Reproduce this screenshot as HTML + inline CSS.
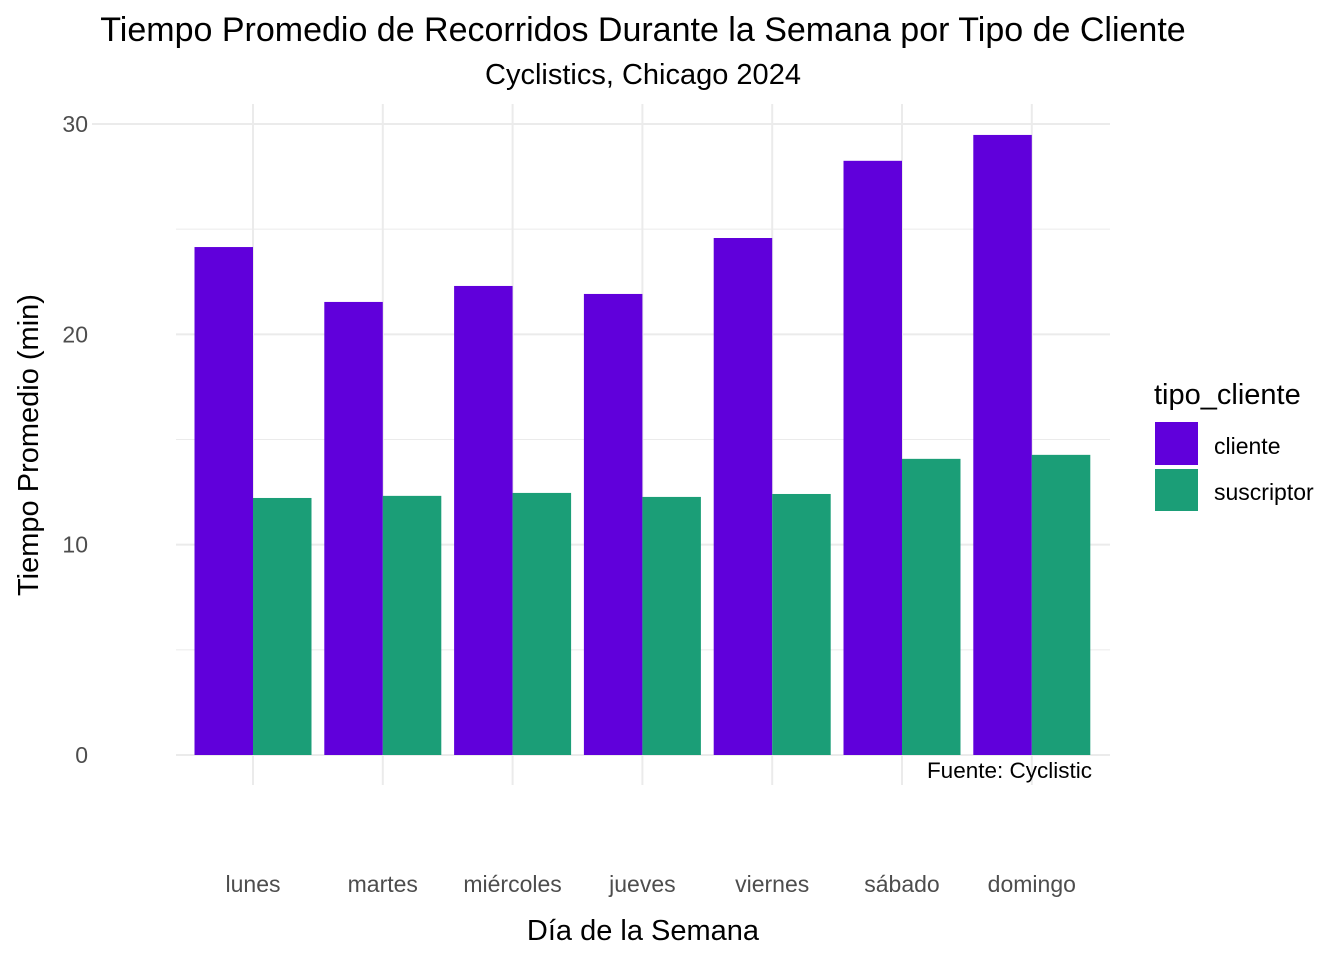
<!DOCTYPE html>
<html><head><meta charset="utf-8">
<style>
body{margin:0;background:#fff;}
svg text{font-family:"Liberation Sans",sans-serif;}
</style></head>
<body>
<svg id="chart" width="1344" height="960" xmlns="http://www.w3.org/2000/svg">
<rect width="1344" height="960" fill="#fff"/>
<g id="grid"></g>
<g id="bars"></g>
<g id="labels"></g>
<text x="643" y="41" font-size="34" text-anchor="middle" fill="#000">Tiempo Promedio de Recorridos Durante la Semana por Tipo de Cliente</text>
<text x="643" y="84" font-size="29" text-anchor="middle" fill="#000">Cyclistics, Chicago 2024</text>
<text transform="translate(38,445) rotate(-90)" font-size="29" text-anchor="middle" fill="#000">Tiempo Promedio (min)</text>
<text x="643" y="940" font-size="29" text-anchor="middle" fill="#000">Día de la Semana</text>
<text x="1092" y="778" font-size="22.5" text-anchor="end" fill="#000">Fuente: Cyclistic</text>
<g>
<text x="1154" y="404" font-size="29" fill="#000">tipo_cliente</text>
<rect x="1155" y="422" width="43" height="43" fill="#6000DB"/>
<rect x="1155" y="469" width="43" height="42" fill="#1B9E77"/>
<text x="1214" y="454" font-size="23" fill="#000">cliente</text>
<text x="1214" y="500" font-size="23" fill="#000">suscriptor</text>
</g>
</svg>
<script>
const categories=["lunes","martes","miércoles","jueves","viernes","sábado","domingo"];
const cliente=[24.15,21.54,22.3,21.92,24.58,28.25,29.48];
const suscriptor=[12.22,12.32,12.46,12.27,12.41,14.08,14.27];
const yTicks=[0,10,20,30];
const yMinor=[5,15,25];
const NS="http://www.w3.org/2000/svg";
const y0=755, pxPerUnit=(755-124)/30;
const y=v=>y0-v*pxPerUnit;
const x=i=>253+i*129.8;
const bw=58.5;
function mk(tag,attrs,parent){const e=document.createElementNS(NS,tag);for(const k in attrs)e.setAttribute(k,attrs[k]);parent.appendChild(e);return e;}
const grid=document.getElementById('grid'),bars=document.getElementById('bars'),labels=document.getElementById('labels');
yMinor.forEach(v=>{const l=mk('line',{x1:176,x2:1110,y1:y(v),y2:y(v),stroke:'#ebebeb','stroke-width':1},grid);

});
yTicks.forEach(v=>{const l=mk('line',{x1:v===30?92:176,x2:1110,y1:y(v),y2:y(v),stroke:'#ebebeb','stroke-width':2},grid);


const t=mk('text',{x:88,y:y(v)+8,'font-size':23,'text-anchor':'end',fill:'#4d4d4d'},labels);t.textContent=v;

});
categories.forEach((c,i)=>{
const l=mk('line',{x1:x(i),x2:x(i),y1:104,y2:785,stroke:'#ebebeb','stroke-width':2},grid);


const b1=mk('rect',{x:x(i)-bw,y:y(cliente[i]),width:bw,height:y0-y(cliente[i]),fill:'#6000DB'},bars);


const b2=mk('rect',{x:x(i),y:y(suscriptor[i]),width:bw,height:y0-y(suscriptor[i]),fill:'#1B9E77'},bars);


const t=mk('text',{x:x(i),y:892,'font-size':23,'text-anchor':'middle',fill:'#4d4d4d'},labels);t.textContent=c;


});
</script>
</body></html>
